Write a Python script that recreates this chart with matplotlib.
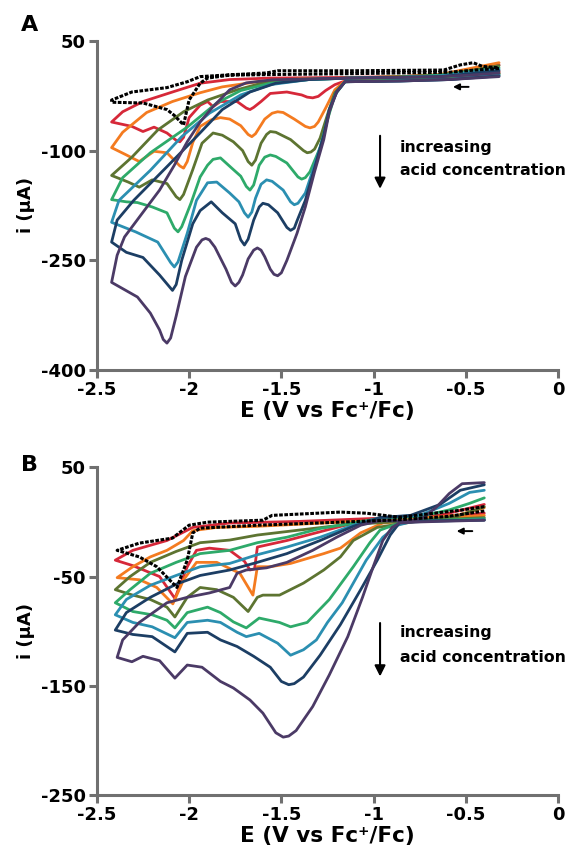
import matplotlib
matplotlib.use('Agg')
import matplotlib.pyplot as plt

plt.rcParams['font.family'] = ['DejaVu Sans']
plt.rcParams['font.weight'] = 'bold'

colors = ['#d62839', '#f47b20', '#5d7431', '#2eaa6a', '#2b8fb1', '#1c3e64', '#4b3a66']

# ---- panel A: (E in V, i in uA), forward scan to -2.42 V then back ----
a_black = [(-0.32, 12), (-0.45, 10), (-0.59, 7), (-0.86, 6), (-1.13, 5), (-1.50, 4), (-1.78, 3),
           (-1.90, -1), (-1.94, -8), (-2.00, -31), (-2.03, -65), (-2.08, -52), (-2.12, -44),
           (-2.25, -35), (-2.42, -34),
           (-2.42, -31), (-2.31, -20), (-2.12, -14), (-2.01, -6), (-1.94, 1), (-1.78, 3.5),
           (-1.58, 6), (-1.52, 9), (-1.13, 9), (-0.62, 10), (-0.53, 17), (-0.46, 20),
           (-0.41, 15), (-0.32, 13)]
a_red = [(-0.32, 8), (-0.59, 0), (-0.86, -2), (-1.155, -5), (-1.21, -10), (-1.26, -18),
         (-1.30, -26), (-1.33, -28), (-1.36, -27), (-1.39, -24), (-1.47, -20), (-1.56, -22),
         (-1.61, -33), (-1.65, -41), (-1.67, -44), (-1.69, -42), (-1.74, -33), (-1.83, -33),
         (-1.87, -40), (-1.90, -33), (-1.94, -38), (-2.00, -55), (-2.03, -82), (-2.05, -88),
         (-2.07, -86), (-2.12, -76), (-2.19, -68), (-2.25, -74), (-2.31, -67), (-2.42, -61),
         (-2.36, -47), (-2.25, -33), (-2.09, -20), (-1.94, -8), (-1.78, -3), (-1.56, -1),
         (-1.13, 0), (-0.86, 1), (-0.64, 3), (-0.48, 10), (-0.32, 17)]
a_orange = [(-0.32, 6), (-0.59, -1), (-0.86, -3), (-1.155, -5), (-1.21, -17), (-1.26, -42),
            (-1.30, -61), (-1.32, -67), (-1.345, -69), (-1.37, -67), (-1.43, -57), (-1.49, -48),
            (-1.52, -47), (-1.55, -49), (-1.59, -57), (-1.64, -77), (-1.66, -81), (-1.68, -78),
            (-1.72, -66), (-1.78, -57), (-1.83, -55), (-1.88, -58), (-1.94, -67), (-1.98, -89),
            (-2.01, -115), (-2.03, -124), (-2.05, -121), (-2.12, -103), (-2.19, -101),
            (-2.27, -115), (-2.34, -106), (-2.42, -96),
            (-2.36, -75), (-2.23, -48), (-2.09, -33), (-1.94, -21), (-1.82, -13), (-1.63, -6),
            (-1.40, -2), (-1.13, -1), (-0.86, 1), (-0.64, 4), (-0.48, 12), (-0.32, 20)]
a_olive = [(-0.32, 5), (-0.59, -1), (-0.86, -4), (-1.155, -6), (-1.21, -21), (-1.25, -51),
           (-1.29, -83), (-1.32, -98), (-1.34, -102), (-1.36, -103), (-1.38, -100), (-1.45, -85),
           (-1.53, -75), (-1.56, -74), (-1.58, -78), (-1.61, -90), (-1.64, -113), (-1.66, -120),
           (-1.68, -115), (-1.71, -100), (-1.76, -88), (-1.82, -79), (-1.87, -76), (-1.93, -90),
           (-1.98, -126), (-2.03, -160), (-2.05, -167), (-2.07, -163), (-2.12, -145),
           (-2.20, -140), (-2.27, -150), (-2.33, -143), (-2.42, -134),
           (-2.31, -109), (-2.17, -72), (-2.03, -47), (-1.90, -31), (-1.74, -17), (-1.60, -7.5),
           (-1.40, -3), (-1.13, -1), (-0.86, 1), (-0.64, 3), (-0.48, 9), (-0.32, 16)]
a_green = [(-0.32, 4), (-0.59, -2), (-0.86, -4), (-1.155, -6), (-1.21, -24), (-1.25, -58),
           (-1.29, -96), (-1.345, -129), (-1.37, -137), (-1.39, -139), (-1.41, -136),
           (-1.47, -117), (-1.53, -108), (-1.56, -106), (-1.59, -109), (-1.62, -120),
           (-1.65, -147), (-1.67, -154), (-1.69, -149), (-1.72, -135), (-1.76, -126),
           (-1.83, -110), (-1.87, -112), (-1.90, -120), (-1.94, -136), (-1.99, -172),
           (-2.04, -204), (-2.06, -211), (-2.08, -206), (-2.12, -185), (-2.20, -177),
           (-2.28, -171), (-2.34, -170), (-2.42, -167),
           (-2.36, -137), (-2.21, -103), (-2.01, -68), (-1.85, -35), (-1.72, -18), (-1.56, -8),
           (-1.35, -3), (-1.13, -1), (-0.86, 0), (-0.64, 3), (-0.48, 8), (-0.32, 13)]
a_teal = [(-0.32, 3), (-0.59, -3), (-0.86, -5), (-1.155, -6), (-1.20, -20), (-1.24, -44),
          (-1.27, -79), (-1.32, -120), (-1.37, -158), (-1.41, -172), (-1.43, -174), (-1.45, -170),
          (-1.49, -154), (-1.55, -142), (-1.58, -140), (-1.61, -146), (-1.64, -165),
          (-1.66, -184), (-1.68, -191), (-1.70, -185), (-1.73, -170), (-1.78, -158),
          (-1.85, -143), (-1.90, -144), (-1.96, -168), (-2.01, -213), (-2.06, -252),
          (-2.08, -259), (-2.10, -253), (-2.17, -225), (-2.29, -211), (-2.42, -198),
          (-2.38, -168), (-2.21, -127), (-2.04, -81), (-1.89, -49), (-1.72, -24), (-1.56, -10),
          (-1.35, -3), (-1.13, -1), (-0.86, 0), (-0.64, 2), (-0.48, 7), (-0.32, 11)]
a_navy = [(-0.32, 2), (-0.59, -3), (-0.86, -5), (-1.155, -6), (-1.20, -20), (-1.24, -44),
          (-1.27, -79), (-1.32, -124), (-1.37, -168), (-1.415, -196), (-1.43, -206),
          (-1.45, -209), (-1.47, -205), (-1.52, -185), (-1.57, -174), (-1.60, -172),
          (-1.62, -177), (-1.65, -195), (-1.68, -221), (-1.70, -229), (-1.72, -222),
          (-1.75, -200), (-1.82, -185), (-1.88, -170), (-1.94, -182), (-1.98, -200),
          (-2.04, -250), (-2.07, -283), (-2.09, -291), (-2.11, -285), (-2.16, -270),
          (-2.25, -246), (-2.34, -239), (-2.42, -225),
          (-2.39, -195), (-2.30, -168), (-2.12, -122), (-1.96, -81), (-1.82, -44), (-1.67, -20),
          (-1.53, -8), (-1.35, -3), (-1.13, -1), (-0.86, 0), (-0.64, 1), (-0.48, 5), (-0.32, 9)]
a_purple = [(-0.32, 1), (-0.59, -3), (-0.86, -5), (-1.155, -6), (-1.20, -20), (-1.24, -47),
            (-1.27, -85), (-1.32, -129), (-1.37, -177), (-1.415, -213), (-1.47, -250),
            (-1.50, -267), (-1.52, -271), (-1.54, -269), (-1.56, -262), (-1.59, -245),
            (-1.61, -236), (-1.63, -233), (-1.65, -236), (-1.68, -248), (-1.71, -270),
            (-1.73, -280), (-1.75, -285), (-1.77, -280), (-1.80, -262), (-1.86, -232),
            (-1.89, -222), (-1.91, -220), (-1.93, -222), (-1.96, -232), (-2.02, -272),
            (-2.07, -326), (-2.10, -356), (-2.12, -363), (-2.14, -358), (-2.16, -345),
            (-2.21, -322), (-2.28, -300), (-2.35, -290), (-2.42, -280),
            (-2.39, -243), (-2.35, -218), (-2.27, -191), (-2.16, -154), (-2.08, -120),
            (-2.01, -88), (-1.94, -61), (-1.87, -40), (-1.78, -17), (-1.69, -7.5), (-1.55, -3.4),
            (-1.35, -2), (-1.13, -1), (-0.86, 0), (-0.64, 1), (-0.48, 3), (-0.32, 6)]

# ---- panel B ----
b_black = [(-0.40, 10), (-0.60, 5), (-0.86, 2), (-1.18, -0.2), (-1.63, -3), (-1.94, -5.7),
           (-1.98, -10), (-2.01, -35), (-2.066, -60), (-2.175, -41), (-2.27, -32), (-2.39, -26),
           (-2.27, -19.4), (-2.09, -14.8), (-2.00, -3), (-1.90, -0.2), (-1.60, 1.6), (-1.55, 6),
           (-1.18, 9), (-1.04, 8), (-0.86, 4.3), (-0.53, 10.7), (-0.40, 14)]
b_red = [(-0.40, 8), (-0.75, 3), (-0.97, 3), (-1.11, -1), (-1.29, -9), (-1.47, -17), (-1.63, -23),
         (-1.645, -43), (-1.67, -44), (-1.70, -36), (-1.78, -26), (-1.89, -24), (-1.96, -26),
         (-2.01, -41), (-2.077, -70), (-2.16, -50), (-2.305, -40), (-2.40, -35),
         (-2.305, -26), (-2.12, -17), (-1.98, -5), (-1.78, -1), (-1.40, 0.5), (-0.97, 3.4),
         (-0.64, 6), (-0.40, 16)]
b_orange = [(-0.40, 6), (-0.75, 2), (-0.95, -1), (-1.07, -10), (-1.18, -24), (-1.27, -29),
            (-1.45, -38), (-1.56, -41), (-1.63, -41), (-1.654, -67), (-1.725, -47), (-1.85, -37),
            (-1.96, -37), (-2.03, -53), (-2.088, -75), (-2.175, -60), (-2.267, -53), (-2.39, -51),
            (-2.305, -41), (-2.21, -32), (-2.12, -26), (-2.03, -17), (-1.98, -8), (-1.85, -5),
            (-1.63, -4), (-1.18, -0.2), (-0.75, 3.4), (-0.55, 6), (-0.40, 13)]
b_olive = [(-0.40, 4), (-0.75, 1), (-0.98, -5), (-1.11, -17), (-1.18, -32), (-1.27, -44),
           (-1.38, -56), (-1.51, -67), (-1.60, -67), (-1.63, -69), (-1.68, -82), (-1.76, -69),
           (-1.85, -62), (-1.94, -60), (-2.01, -69), (-2.077, -87), (-2.12, -78), (-2.21, -71),
           (-2.305, -67), (-2.40, -62),
           (-2.32, -50), (-2.21, -37), (-2.07, -27), (-1.94, -19), (-1.78, -16.6), (-1.63, -12),
           (-1.18, -3), (-0.75, 1.6), (-0.55, 5), (-0.40, 14)]
b_green = [(-0.40, 3), (-0.75, 1), (-0.86, -1), (-0.965, -7.5), (-1.02, -19), (-1.11, -41),
           (-1.24, -71), (-1.36, -92), (-1.45, -96), (-1.51, -92), (-1.62, -88), (-1.69, -97),
           (-1.76, -91.5), (-1.83, -83), (-1.90, -78), (-2.01, -83), (-2.077, -97), (-2.12, -90),
           (-2.20, -85), (-2.305, -82), (-2.40, -74),
           (-2.32, -62), (-2.21, -47), (-2.07, -37), (-1.94, -29), (-1.78, -26), (-1.63, -19),
           (-1.47, -14), (-1.29, -6), (-1.11, -1), (-0.965, 3.4), (-0.75, 5), (-0.59, 11),
           (-0.48, 17), (-0.40, 22)]
b_teal = [(-0.40, 2), (-0.80, 0), (-0.87, -3), (-0.95, -14), (-1.04, -35), (-1.11, -56),
          (-1.17, -74), (-1.25, -92), (-1.31, -108), (-1.38, -117), (-1.45, -122), (-1.52, -111),
          (-1.62, -102), (-1.69, -105), (-1.74, -101), (-1.83, -92), (-1.90, -90), (-2.01, -92),
          (-2.077, -106), (-2.20, -96), (-2.305, -92), (-2.40, -85),
          (-2.34, -71), (-2.21, -58), (-2.07, -49), (-1.94, -41), (-1.78, -38), (-1.63, -30),
          (-1.47, -23), (-1.29, -14), (-1.11, -3), (-0.965, 4), (-0.75, 6), (-0.59, 17),
          (-0.48, 27), (-0.40, 29)]
b_navy = [(-0.40, 1.6), (-0.75, 1), (-0.857, -0.2), (-0.91, -12), (-0.98, -35), (-1.07, -62),
          (-1.18, -94), (-1.29, -122), (-1.38, -142), (-1.43, -148), (-1.46, -149), (-1.50, -146),
          (-1.56, -133), (-1.65, -123), (-1.74, -114), (-1.83, -108), (-1.90, -101), (-2.01, -102),
          (-2.077, -119), (-2.20, -105), (-2.305, -103), (-2.40, -99),
          (-2.34, -83), (-2.21, -69), (-2.07, -57), (-1.94, -49), (-1.78, -44), (-1.63, -37),
          (-1.47, -29), (-1.29, -17), (-1.11, -4), (-0.965, 4), (-0.80, 6), (-0.64, 16),
          (-0.53, 29), (-0.40, 34)]
b_purple = [(-0.40, 1.6), (-0.75, 0), (-0.86, -1), (-0.90, -5), (-0.95, -17), (-1.00, -40),
            (-1.06, -69), (-1.14, -105), (-1.24, -140), (-1.33, -169), (-1.42, -191), (-1.46, -196),
            (-1.49, -197), (-1.53, -193), (-1.60, -175), (-1.67, -163), (-1.76, -152),
            (-1.83, -146), (-1.93, -133), (-2.01, -131), (-2.077, -143), (-2.16, -127),
            (-2.25, -123), (-2.31, -128), (-2.39, -124),
            (-2.36, -108), (-2.27, -92), (-2.12, -74), (-2.01, -69), (-1.89, -65), (-1.78, -60),
            (-1.74, -47), (-1.69, -44), (-1.58, -42), (-1.47, -37), (-1.33, -26), (-1.20, -14),
            (-1.07, -3), (-0.97, 1), (-0.86, 1), (-0.80, 1), (-0.73, 4), (-0.66, 13.5),
            (-0.59, 26), (-0.52, 35), (-0.40, 36)]

a_curves = [a_red, a_orange, a_olive, a_green, a_teal, a_navy, a_purple]
b_curves = [b_red, b_orange, b_olive, b_green, b_teal, b_navy, b_purple]

x_ticks = [-2.5, -2, -1.5, -1, -0.5, 0]
x_labels = ['-2.5', '-2', '-1.5', '-1', '-0.5', '0']

fig = plt.figure(figsize=(5.73, 8.67), dpi=100)
axA = fig.add_axes([0.169, 0.573, 0.805, 0.380])
axB = fig.add_axes([0.169, 0.083, 0.805, 0.378])


def draw(ax, curves, black):
    for pts, c in zip(curves, colors):
        ax.plot([p[0] for p in pts], [p[1] for p in pts], color=c, lw=2.0,
                solid_joinstyle='round', solid_capstyle='round')
    ax.plot([p[0] for p in black], [p[1] for p in black], color='black', lw=2.2,
            linestyle=(0, (1.2, 0.5)))


def style(ax, ylim, yticks):
    ax.set_xlim(-2.5, 0)
    ax.set_ylim(*ylim)
    ax.set_xticks(x_ticks)
    ax.set_xticklabels(x_labels)
    ax.set_yticks(yticks)
    ax.set_yticklabels([str(t) for t in yticks])
    for s in ['top', 'right']:
        ax.spines[s].set_visible(False)
    for s in ['left', 'bottom']:
        ax.spines[s].set_color('#707070')
        ax.spines[s].set_linewidth(2.2)
    ax.tick_params(color='#707070', width=2.2, length=6, labelsize=13, pad=2)
    ax.set_xlabel('E (V vs Fc\u207a/Fc)', fontsize=15.5, fontweight='bold', labelpad=1)
    ax.set_ylabel('i (\u03bcA)', fontsize=13, fontweight='bold', labelpad=4)


draw(axA, a_curves, a_black)
style(axA, (-400, 50), [50, -100, -250, -400])
draw(axB, b_curves, b_black)
style(axB, (-250, 50), [50, -50, -150, -250])

# annotations, panel A
axA.annotate('', xy=(-0.965, -156), xytext=(-0.965, -76),
             arrowprops=dict(arrowstyle='-|>', color='black', lw=1.5, mutation_scale=16))
axA.text(-0.857, -96, 'increasing', fontsize=11.3, va='center', ha='left')
axA.text(-0.857, -127, 'acid concentration', fontsize=11.3, va='center', ha='left')
axA.annotate('', xy=(-0.585, -13), xytext=(-0.47, -13),
             arrowprops=dict(arrowstyle='-|>', color='black', lw=1.4, mutation_scale=9))

# annotations, panel B
axB.annotate('', xy=(-0.965, -144), xytext=(-0.965, -90),
             arrowprops=dict(arrowstyle='-|>', color='black', lw=1.5, mutation_scale=16))
axB.text(-0.857, -101, 'increasing', fontsize=11.3, va='center', ha='left')
axB.text(-0.857, -124, 'acid concentration', fontsize=11.3, va='center', ha='left')
axB.annotate('', xy=(-0.565, -8.4), xytext=(-0.45, -8.4),
             arrowprops=dict(arrowstyle='-|>', color='black', lw=1.4, mutation_scale=9))

fig.text(0.052, 0.971, 'A', fontsize=16, fontweight='bold', ha='center', va='center')
fig.text(0.052, 0.464, 'B', fontsize=16, fontweight='bold', ha='center', va='center')

fig.savefig('out.png', dpi=100)
